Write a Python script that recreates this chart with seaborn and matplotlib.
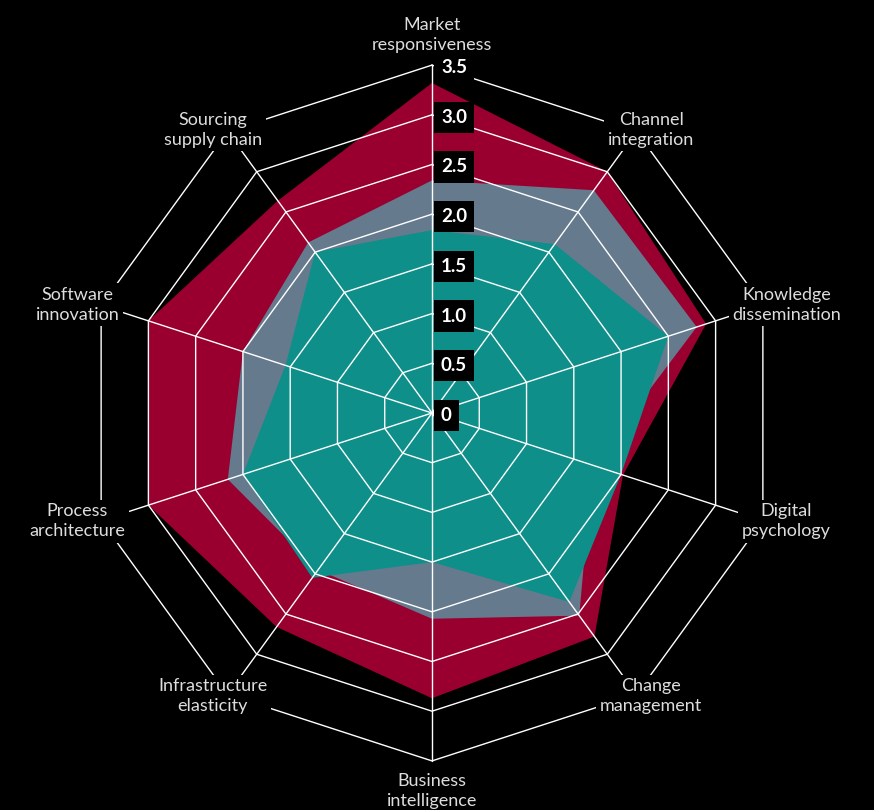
import numpy as np
import pandas as pd
import seaborn as sns
import matplotlib.pyplot as plt

categories = ["Market\nresponsiveness", "Channel\nintegration", "Knowledge\ndissemination",
              "Digital\npsychology", "Change\nmanagement", "Business\nintelligence",
              "Infrastructure\nelasticity", "Process\narchitecture", "Software\ninnovation",
              "Sourcing\nsupply chain"]
outer = [3.32, 3.0, 2.9, 2.02, 2.78, 2.87, 2.66, 3.0, 3.0, 2.64]
middle = [2.34, 2.77, 2.8, 1.7, 2.52, 2.07, 1.95, 2.16, 2.0, 2.12]
inner = [1.84, 2.1, 2.5, 2.0, 2.35, 1.5, 2.05, 2.0, 1.55, 2.0]
levels = [0, 0.5, 1.0, 1.5, 2.0, 2.5, 3.0, 3.5]
level_labels = ["0", "0.5", "1.0", "1.5", "2.0", "2.5", "3.0", "3.5"]
series_colors = ["#99002f", "#667a8e", "#0e8f89"]

sns.set_theme(style="dark", rc={"axes.facecolor": "black", "figure.facecolor": "black"})
plt.rcParams["font.family"] = ["Lato", "DejaVu Sans"]

n = len(categories)
theta = np.arange(n) * 2 * np.pi / n


def to_xy(r):
    r = np.asarray(r, dtype=float)
    return r * np.sin(theta), r * np.cos(theta)


fig = plt.figure(figsize=(8.74, 8.10), dpi=100)
ax = fig.add_axes([0, 0, 1, 1])

# filled series, biggest first
for vals, c in zip([outer, middle, inner], series_colors):
    x, y = to_xy(vals)
    ax.fill(x, y, color=c, lw=0, zorder=1)

# decagon rings
rows = []
for lv in levels[1:]:
    x, y = to_xy([lv] * n)
    for i in range(n + 1):
        rows.append({"x": x[i % n], "y": y[i % n], "ring": lv})
rings = pd.DataFrame(rows)
sns.lineplot(data=rings, x="x", y="y", units="ring", estimator=None, sort=False,
             color="white", lw=1.0, ax=ax, zorder=2)

# spokes
rows = []
xe, ye = to_xy([levels[-1]] * n)
for i in range(n):
    rows.append({"x": 0.0, "y": 0.0, "spoke": i})
    rows.append({"x": xe[i], "y": ye[i], "spoke": i})
spokes = pd.DataFrame(rows)
sns.lineplot(data=spokes, x="x", y="y", units="spoke", estimator=None, sort=False,
             color="white", lw=1.0, ax=ax, zorder=2)

# level labels on the top spoke
for lv, lab in zip(levels, level_labels):
    ax.text(0.09, lv - 0.025, lab, ha="left", va="center", color="white",
            fontsize=13.5, fontweight="bold", zorder=4,
            bbox=dict(boxstyle="square,pad=0.38", fc="black", ec="none"))

# category labels
for i, lab in enumerate(categories):
    s, c = np.sin(theta[i]), np.cos(theta[i])
    ry = 3.8 if abs(s) < 0.1 else 3.52
    ax.text(3.75 * s, ry * c, lab, ha="center", va="center", color="#dddddd",
            fontsize=13, linespacing=1.3, zorder=4,
            bbox=dict(boxstyle="square,pad=0.2", fc="black", ec="none"))

unit = 99.4
ax.set_xlim(-432 / unit, 442 / unit)
ax.set_ylim(-397 / unit, 413 / unit)
ax.set_axis_off()

fig.savefig("out.png", dpi=100, facecolor="black")
